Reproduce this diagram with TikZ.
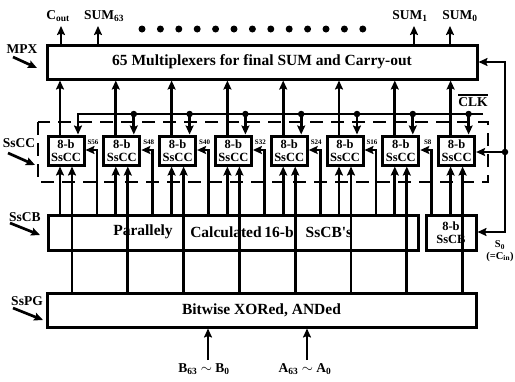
\documentclass[tikz,border=0pt]{standalone}
\usepackage{fontspec}
\setmainfont{Liberation Serif}
\usetikzlibrary{arrows.meta}
\begin{document}
\begin{tikzpicture}[x=1pt,y=-1pt,
  blk/.style={draw,line width=3pt,inner sep=0pt},
  cell/.style={draw,line width=3pt,minimum width=36pt,minimum height=29pt,inner sep=0pt,align=center,font=\fontsize{12.5}{12.5}\selectfont\bfseries},
  wire/.style={line width=2.7pt},
  arr/.style={wire,-{Stealth[length=9pt,width=8pt,inset=1.5pt]}},
  jdot/.style={circle,fill,inner sep=0pt,minimum size=6.5pt},
  bigtxt/.style={font=\fontsize{15.5}{15.5}\selectfont\bfseries,inner sep=0pt},
  lbl/.style={font=\fontsize{13.5}{13.5}\selectfont\bfseries,inner sep=0pt},
  small/.style={font=\fontsize{7}{7}\selectfont\bfseries,inner sep=0pt},
]
\useasboundingbox (0,0) rectangle (515,381);

% main blocks
\node[blk,minimum width=430pt,minimum height=34pt,bigtxt] (mpx) at (262,62) {65 Multiplexers for final SUM and Carry-out};
\node[blk,minimum width=370pt,minimum height=35pt] (sscb) at (233,232.5) {};
\node[blk,minimum width=50pt,minimum height=35pt,align=center,font=\fontsize{12.5}{12.5}\selectfont\bfseries] (sscb8) at (451,232.5) {8-b\\SsCB};
\node[blk,minimum width=429pt,minimum height=34pt,bigtxt] (sspg) at (261.5,310) {Bitwise XORed, ANDed};

% SsCB words
\node[bigtxt] (w1) at (143,232) {Parallely};
\node[bigtxt] (w2) at (226,232) {Calculated};
\node[bigtxt] (w3) at (279,232) {16-b};
\node[bigtxt] (w4) at (329,232) {SsCB\textquotesingle s};

% SsCC cells and column coordinates
\foreach \k in {1,...,8} {
  \pgfmathsetmacro\L{48+55.8*(\k-1)}
  \node[cell] (c\k) at (\L+18,150.5) {8-b\\SsCC};
  \coordinate (pa\k) at (\L+12,0);
  \coordinate (pb\k) at (\L+24,0);
  \coordinate (pk\k) at (\L+30,114);
  \coordinate (ps\k) at (\L+49,150);
}

% dashed SsCC region
\draw[wire,dash pattern=on 13pt off 8pt] (38,122) rectangle (488,182);

% outputs to MPX and inputs from SsPG
\foreach \k in {1,...,8} {
  \draw[arr] (c\k.north -| pa\k) -- (mpx.south -| pa\k);
  \draw[arr] (sspg.north -| pb\k) -- (c\k.south -| pb\k);
}
% inputs from SsCB
\foreach \k in {1,...,7}
  \draw[arr] (sscb.north -| pa\k) -- (c\k.south -| pa\k);
\draw[arr] (sscb8.north -| pa8) -- (c8.south -| pa8);

% carry signals S56..S8
\foreach \k/\s in {1/56,2/48,3/40,4/32,5/24,6/16} {
  \draw[arr] (sscb.north -| ps\k) -- (ps\k) -- (c\k.east |- ps\k);
  \node[small,anchor=south] (sl\k) at ([shift={(-4,-5)}]ps\k) {S\s};
}
\draw[arr] (sscb8.north -| ps7) -- (ps7) -- (c7.east |- ps7);
\node[small,anchor=south] (sl7) at ([shift={(-4,-5)}]ps7) {S8};

% clock
\coordinate (clkR) at (483,114);
\draw[arr] (clkR) -- (pk1) -- (c1.north -| pk1);
\foreach \k in {2,...,8} {
  \draw[arr] (pk\k) -- (c\k.north -| pk\k);
  \node[jdot] (j\k) at (pk\k) {};
}
\node[font=\fontsize{13.5}{13.5}\selectfont\bfseries,inner sep=0pt] (clk) at (473,102) {CLK};
\draw[line width=2pt] ([yshift=2.5pt]clk.north west) -- ([yshift=2.5pt]clk.north east);

% S0 line on the right
\coordinate (rt) at (505,62);
\coordinate (rj) at (505,152);
\coordinate (rb) at (505,232);
\draw[arr] (rj) -- (rt) -- (mpx.east |- rt);
\draw[arr] (rj) -- (rb) -- (sscb8.east |- rb);
\draw[arr] (rj) -- (c8.east |- rj);
\node[jdot] (jr) at (rj) {};
\node[font=\fontsize{10.5}{11.5}\selectfont\bfseries,align=center,inner sep=0pt] (s0) at (500,251) {S\textsubscript{0}\\(=C\textsubscript{in})};

% top outputs
\coordinate (o1) at (61,26);
\coordinate (o2) at (98,26);
\coordinate (o3) at (414,26);
\coordinate (o4) at (450,26);
\foreach \i in {1,...,4} \draw[arr] (mpx.north -| o\i) -- (o\i);
\node[lbl,anchor=south] (t1) at (58,22) {C\textsubscript{out}};
\node[lbl,anchor=south] (t2) at (104,22) {SUM\textsubscript{63}};
\node[lbl,anchor=south] (t3) at (410,22) {SUM\textsubscript{1}};
\node[lbl,anchor=south] (t4) at (460,22) {SUM\textsubscript{0}};
\foreach \i in {0,...,12} \node[jdot,minimum size=7pt] (d\i) at (142+18.4*\i,29) {};

% bottom inputs
\coordinate (bin) at (208,360);
\coordinate (ain) at (307,360);
\draw[arr] (bin) -- (sspg.south -| bin);
\draw[arr] (ain) -- (sspg.south -| ain);
\node[lbl,anchor=north] (bl) at (204,363) {B\textsubscript{63} $\sim$ B\textsubscript{0}};
\node[lbl,anchor=north] (al) at (305,363) {A\textsubscript{63} $\sim$ A\textsubscript{0}};

% left labels
\node[lbl] (lmpx) at (22,49) {MPX};
\coordinate (lm1) at (13,57); \coordinate (lm2) at (37,68);
\draw[arr] (lm1) -- (lm2);
\node[lbl] (lcc) at (19,143) {SsCC};
\coordinate (lc1) at (8,153); \coordinate (lc2) at (35,165);
\draw[arr] (lc1) -- (lc2);
\node[lbl] (lcb) at (25,217) {SsCB};
\coordinate (lb1) at (10,223); \coordinate (lb2) at (40,235);
\draw[arr] (lb1) -- (lb2);
\node[lbl] (lpg) at (27,301) {SsPG};
\coordinate (lp1) at (13,308); \coordinate (lp2) at (43,320);
\draw[arr] (lp1) -- (lp2);
\end{tikzpicture}
\end{document}
